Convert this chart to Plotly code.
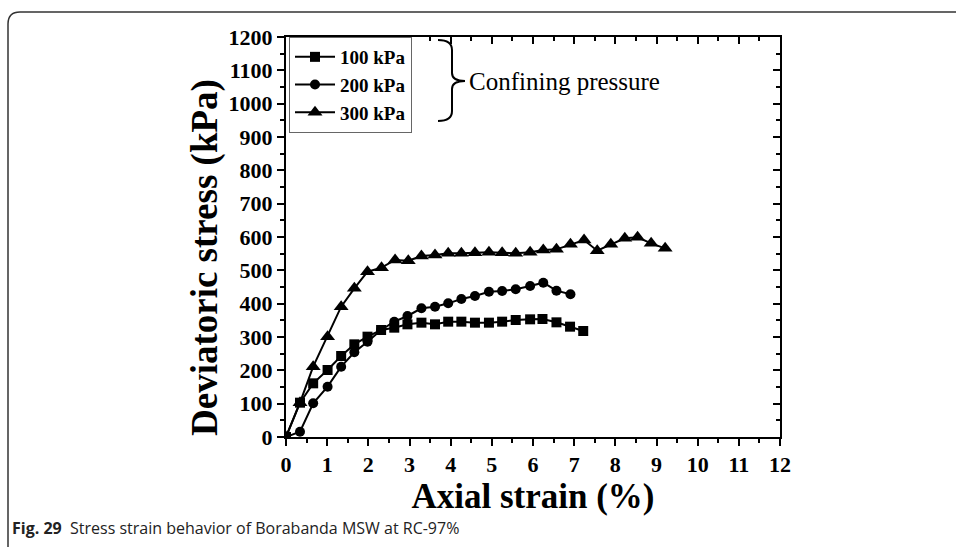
import plotly.graph_objects as go

# ---------------- data ----------------
strain_100 = [0, 0.34, 0.66, 1.01, 1.34, 1.66, 1.98, 2.31, 2.63, 2.95, 3.29, 3.62, 3.94,
              4.26, 4.59, 4.93, 5.25, 5.58, 5.93, 6.23, 6.57, 6.90, 7.22]
stress_100 = [0, 103, 161, 201, 243, 278, 301, 321, 328, 338, 343, 338, 346,
              346, 343, 343, 346, 351, 353, 354, 344, 331, 318]

strain_200 = [0, 0.34, 0.66, 1.01, 1.34, 1.66, 1.98, 2.31, 2.63, 2.95, 3.29, 3.62, 3.94,
              4.26, 4.59, 4.93, 5.25, 5.58, 5.93, 6.25, 6.57, 6.91]
stress_200 = [0, 16, 101, 151, 211, 254, 286, 321, 346, 363, 386, 391, 401,
              414, 423, 436, 438, 443, 453, 463, 439, 428]

strain_300 = [0, 0.34, 0.66, 1.01, 1.34, 1.66, 1.98, 2.32, 2.65, 2.97, 3.29, 3.62, 3.94,
              4.26, 4.59, 4.93, 5.25, 5.58, 5.93, 6.25, 6.57, 6.91, 7.24, 7.56, 7.89,
              8.23, 8.54, 8.87, 9.21]
stress_300 = [0, 103, 211, 301, 391, 446, 496, 508, 531, 529, 543, 546, 551,
              551, 553, 554, 553, 551, 554, 561, 563, 578, 591, 559, 578,
              596, 599, 581, 566]

series_names = ["100 kPa", "200 kPa", "300 kPa"]
symbols = ["square", "circle", "triangle-up"]
marker_sizes = [10, 10, 13]

x_title = "Axial strain (%)"
y_title = "Deviatoric stress (kPa)"
brace_label = "Confining pressure"
caption_bold = "Fig. 29"
caption_text = "Stress strain behavior of Borabanda MSW at RC-97%"

# ---------------- layout geometry ----------------
W, H = 956, 547
L, R, T, B = 286, 780, 37, 437  # plot area in pixels

def px(x):
    return (x - L) / (R - L)

def py(y):
    return (B - y) / (B - T)

SERIF = "Liberation Serif"

fig = go.Figure()
for xs, ys, name, sym, ms in zip([strain_100, strain_200, strain_300],
                                 [stress_100, stress_200, stress_300],
                                 series_names, symbols, marker_sizes):
    fig.add_trace(go.Scatter(
        x=xs, y=ys, name=name, mode="lines+markers",
        line=dict(color="black", width=2),
        marker=dict(symbol=sym, size=ms, color="black"),
    ))

axis_common = dict(showline=True, linecolor="black", linewidth=2, showgrid=False,
                   zeroline=False, tickcolor="black", tickwidth=2, ticklen=7)

fig.update_layout(
    width=W, height=H,
    margin=dict(l=L, r=W - R, t=T, b=H - B),
    paper_bgcolor="white", plot_bgcolor="white",
    font=dict(family=SERIF, color="black"),
    showlegend=True,
    legend=dict(x=px(289), y=1, xanchor="left", yanchor="top",
                bgcolor="white", bordercolor="#666", borderwidth=1,
                font=dict(family=SERIF, size=19, color="black", weight="bold"),
                tracegroupgap=0, itemwidth=40),
    xaxis=dict(range=[0, 12], dtick=1, tick0=0, ticks="outside",
               minor=dict(dtick=0.5, ticks="outside", ticklen=4, tickwidth=1.5, tickcolor="black"),
               tickfont=dict(family=SERIF, size=22, weight="bold"),
               title=dict(text=x_title, font=dict(family=SERIF, size=35, weight="bold"), standoff=6),
               **axis_common),
    yaxis=dict(range=[0, 1200], dtick=100, tick0=0, ticks="outside",
               minor=dict(dtick=50, ticks="outside", ticklen=4, tickwidth=1.5, tickcolor="black"),
               tickfont=dict(family=SERIF, size=22, weight="bold"),
               **axis_common),
    xaxis2=dict(range=[0, 12], dtick=1, tick0=0, ticks="inside", overlaying="x", side="top",
                showticklabels=False, anchor="y",
                minor=dict(dtick=0.5, ticks="inside", ticklen=4, tickwidth=1.5, tickcolor="black"),
                **axis_common),
    yaxis2=dict(range=[0, 1200], dtick=100, tick0=0, ticks="inside", overlaying="y", side="right",
                showticklabels=False, anchor="x",
                minor=dict(dtick=50, ticks="inside", ticklen=4, tickwidth=1.5, tickcolor="black"),
                **axis_common),
)

# invisible helper trace to activate the mirror axes
fig.add_trace(go.Scatter(x=[0], y=[0], xaxis="x2", yaxis="y2", mode="markers",
                         marker=dict(opacity=0), showlegend=False, hoverinfo="skip"))

# y-axis title (placed as rotated annotation to match the original offset)
fig.add_annotation(x=px(205), y=py(258), xref="paper", yref="paper", xanchor="center",
                   yanchor="middle", showarrow=False, text=f"<b>{y_title}</b>", textangle=-90,
                   font=dict(family=SERIF, size=37, color="black"))

# brace
brace = (f"M {px(438)},{py(40)} Q {px(452)},{py(40)} {px(452)},{py(50)} "
         f"L {px(452)},{py(73)} Q {px(452)},{py(81)} {px(465)},{py(81)} "
         f"Q {px(452)},{py(81)} {px(452)},{py(89)} "
         f"L {px(452)},{py(111)} Q {px(452)},{py(121)} {px(438)},{py(121)}")
fig.add_shape(type="path", path=brace, xref="paper", yref="paper",
              line=dict(color="black", width=2))
fig.add_annotation(x=px(467), y=py(81), xref="paper", yref="paper", xanchor="left",
                   yanchor="middle", showarrow=False, text=brace_label,
                   font=dict(family=SERIF, size=25, color="black"))

# outer frame (page border)
frame = (f"M {px(8)},{py(560)} L {px(8)},{py(24)} Q {px(8)},{py(12)} {px(20)},{py(12)} "
         f"L {px(960)},{py(12)}")
fig.add_shape(type="path", path=frame, xref="paper", yref="paper",
              line=dict(color="#333", width=1.5))

# caption
fig.add_annotation(x=px(10), y=py(528), xref="paper", yref="paper", xanchor="left",
                   yanchor="middle", showarrow=False,
                   text=f"<b>{caption_bold}</b>  {caption_text}",
                   font=dict(family="Open Sans", size=16, color="#222"))

fig.write_html("out.html")
